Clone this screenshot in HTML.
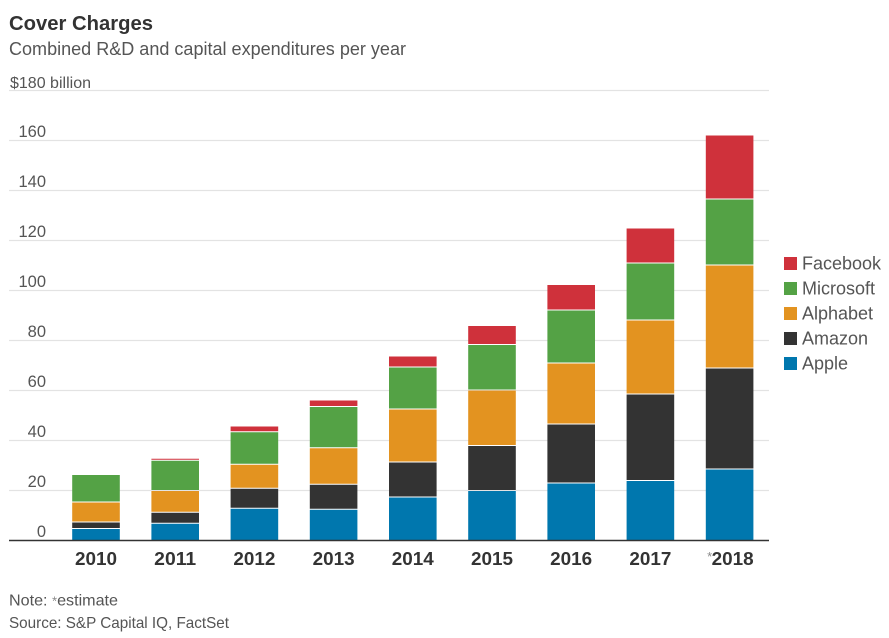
<!DOCTYPE html>
<html>
<head>
<meta charset="utf-8">
<title>Cover Charges</title>
<style>
html,body{margin:0;padding:0;background:#fff;}
svg{display:block;font-family:"Liberation Sans",sans-serif;}
</style>
</head>
<body>
<svg id="chart" width="889" height="638" viewBox="0 0 889 638" xmlns="http://www.w3.org/2000/svg">
<text x="9" y="30" font-size="20.5" font-weight="bold" fill="#333" textLength="144" lengthAdjust="spacingAndGlyphs">Cover Charges</text>
<text x="9" y="55" font-size="18" fill="#555" textLength="397" lengthAdjust="spacingAndGlyphs">Combined R&amp;D and capital expenditures per year</text>
<text x="10" y="88" font-size="16" fill="#555" textLength="81" lengthAdjust="spacingAndGlyphs">$180 billion</text>
<g id="grid"></g>
<g id="y-ticks"></g>
<g id="bars"></g>
<line x1="9" x2="769" y1="540.5" y2="540.5" stroke="#333" stroke-width="1.5"></line>
<g id="x-ticks"></g>
<g id="legend"></g>
<text x="9" y="605.5" font-size="16" fill="#555" textLength="109" lengthAdjust="spacingAndGlyphs">Note: <tspan fill="#888" font-size="13">*</tspan>estimate</text>
<text x="9" y="628" font-size="16" fill="#555" textLength="220" lengthAdjust="spacingAndGlyphs">Source: S&amp;P Capital IQ, FactSet</text>
</svg>
<script>
const years = ['2010','2011','2012','2013','2014','2015','2016','2017','*2018'];
const apple = [4.8,6.9,12.9,12.5,17.4,20,23,24,28.6];
const amazon = [2.6,4.4,8,10,14,18,23.6,34.6,40.4];
const alphabet = [8,8.7,9.6,14.6,21.2,22.2,24.4,29.6,41.2];
const microsoft = [11,12.1,13,16.5,16.8,18.2,21.2,22.8,26.4];
const facebook = [0,0.8,2.3,2.6,4.4,7.6,10.2,14,25.6];
const yTicks = [0,20,40,60,80,100,120,140,160,180];
const seriesNames = ['Apple','Amazon','Alphabet','Microsoft','Facebook'];
const seriesColors = ['#0077ae','#333333','#e39320','#54a245','#cf313b'];
const seriesValues = [apple,amazon,alphabet,microsoft,facebook];

const NS = 'http://www.w3.org/2000/svg';
const plot = {left:9,right:769,bottom:540.5,top:90.5,yMax:180,firstCenter:96,step:79.2,barWidth:47.6};
function yScale(v){return plot.bottom-(v/plot.yMax)*(plot.bottom-plot.top);}
function xScale(i){return plot.firstCenter+i*plot.step;}
function make(tag,attrs,parent,text){
  const el=document.createElementNS(NS,tag);
  for(const k in attrs){el.setAttribute(k,attrs[k]);}
  if(text!==undefined){el.textContent=text;}
  parent.appendChild(el);
  return el;
}
const gridG=document.getElementById('grid');
const yG=document.getElementById('y-ticks');
const barsG=document.getElementById('bars');
const xG=document.getElementById('x-ticks');
const legendG=document.getElementById('legend');

yTicks.forEach(function(t){
  const y=yScale(t);
  if(t>0){
    const line=make('line',{x1:plot.left,x2:plot.right,y1:y,y2:y,stroke:'#e3e3e3','stroke-width':1.2},gridG);
    
    
  }
  if(t<plot.yMax){
    const label=make('text',{x:46,y:y-3.5,'text-anchor':'end','font-size':16.5,fill:'#555'},yG,String(t));
    
    
  }
});

years.forEach(function(year,i){
  let base=0;
  const cx=xScale(i);
  seriesValues.forEach(function(values,s){
    const v=values[i];
    if(v>0){
      const yTop=yScale(base+v)+0.5;
      const yBottom=s===0?yScale(base):yScale(base)-0.5;
      const bar=make('rect',{x:cx-plot.barWidth/2,y:yTop,width:plot.barWidth,height:Math.max(yBottom-yTop,0.5),fill:seriesColors[s]},barsG);
      
      
    }
    base+=v;
  });
  const starred=year.charAt(0)==='*';
  const plain=year.replace('*','');
  const label=make('text',{x:starred?cx+3:cx,y:565,'text-anchor':'middle','font-size':18,'font-weight':'bold',fill:'#333',textLength:42,lengthAdjust:'spacingAndGlyphs'},xG,plain);
  
  
  if(starred){
    const star=make('text',{x:cx-20,y:561,'text-anchor':'middle','font-size':13,fill:'#888'},xG,'*');
    
    
  }
});

seriesNames.slice().reverse().forEach(function(name,i){
  const realIndex=seriesNames.length-1-i;
  const y=263.5+i*25;
  const swatch=make('rect',{x:784,y:y-6.5,width:13,height:13,fill:seriesColors[realIndex]},legendG);
  
  
  const label=make('text',{x:802,y:y+6,'font-size':18,fill:'#555'},legendG,name);
  
  
});
</script>
</body>
</html>
